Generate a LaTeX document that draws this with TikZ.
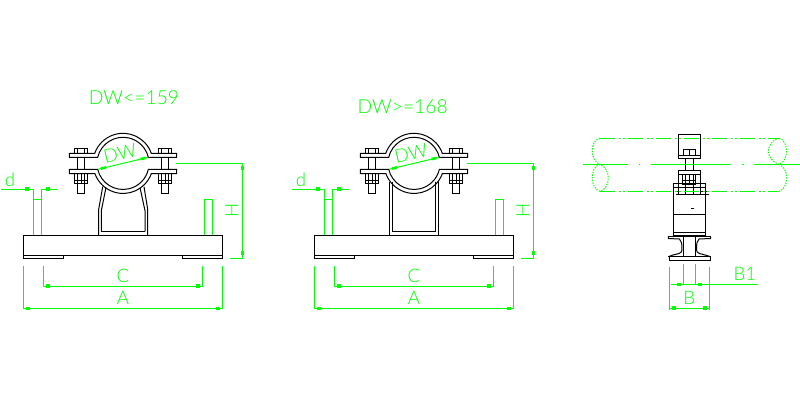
\documentclass[tikz,border=0pt]{standalone}
\usepackage{fontspec}
\setmainfont{Lato}[UprightFont=* Light]
\definecolor{cadgreen}{RGB}{0,255,0}
\tikzset{
  ink/.style={draw=black,line width=0.75pt,line join=miter},
  dim/.style={draw=cadgreen,line width=0.75pt},
  phantomline/.style={draw=cadgreen,line width=0.75pt,dash pattern=on 11.5pt off 2.5pt on 1.5pt off 1.5pt on 1.5pt off 2.5pt},
  dotline/.style={draw=cadgreen,line width=0.75pt,dash pattern=on 1pt off 1pt},
  mark box/.style={fill=cadgreen,draw=none,minimum width=3.2pt,minimum height=2.4pt,inner sep=0pt},
  mark boxv/.style={fill=cadgreen,draw=none,minimum width=2.4pt,minimum height=3.2pt,inner sep=0pt},
  arrowbar/.style={draw=cadgreen,line width=2pt},
  lab/.style={text=cadgreen,inner sep=0pt,font=\fontsize{14pt}{14pt}\selectfont},
  title/.style={text=cadgreen,inner sep=0pt,font=\fontsize{14.5pt}{14.5pt}\selectfont},
}
\newcommand{\boltset}[1]{%
  \begin{scope}[shift={(#1,0)}]
    \draw[ink] (-6.7,153.3) -- (-6.7,148.3) -- (6.7,148.3) -- (6.7,153.3);
    \draw[ink] (-3.7,148.3) -- (-3.7,153.3) (3.7,148.3) -- (3.7,153.3);
    \draw[ink] (-3.7,157.3) -- (-3.7,169.3) (3.7,157.3) -- (3.7,169.3);
    \draw[ink] (-6.7,173.7) -- (-6.7,183.3) -- (6.7,183.3) -- (6.7,173.7);
    \draw[ink] (-3.7,173.7) -- (-3.7,193.3) -- (3.7,193.3) -- (3.7,173.7);
    \draw[ink] (0,173.7) -- (0,183.3) (-6.7,180) -- (6.7,180);
  \end{scope}}
\newcommand{\clamp}{%
  \boltset{-42}\boltset{42}
  % upper half: plate, outer arc, inner arc
  \draw[ink] (-28.3,153.3) -- (-53.7,153.3) -- (-53.7,157.3) -- (-25.3,157.3)
     arc[start angle=193.3,end angle=346.7,radius=26]
     -- (53.7,157.3) -- (53.7,153.3) -- (28.3,153.3)
     arc[start angle=340.5,end angle=199.5,radius=30] -- cycle;
  % lower half
  \draw[ink] (-28.8,173.7) -- (-53.7,173.7) -- (-53.7,169.3) -- (-25.3,169.3)
     arc[start angle=167,end angle=13,radius=26]
     -- (53.7,169.3) -- (53.7,173.7) -- (28.3,173.7)
     arc[start angle=20,end angle=160,radius=30] -- cycle;
}
\newcommand{\basepart}{%
  \draw[ink] (-99.7,235.3) rectangle (99.3,255.3);
  \draw[ink] (-99.7,255.3) rectangle (-59.7,258.3);
  \draw[ink] (59.3,255.3) rectangle (99.3,258.3);
  \draw[dim] (-89.7,235.3) -- (-89.7,189) (-81.7,189) -- (-81.7,235.3) (-89.7,199.3) -- (-81.7,199.3);
  \draw[dim] (81.3,235.3) -- (81.3,199.3) -- (89.3,199.3) -- (89.3,235.3);
  % d
  \draw[dim] (-122,189) -- (-89.7,189) (-81.7,189) -- (-65,189);
  \node[mark box] (dl\figname) at (-95.7,189) {};
  \node[mark box] (dr\figname) at (-75.3,189) {};
  % H
  \draw[dim] (53,163.3) -- (119.3,163.3) -- (119.3,258.3) -- (107,258.3);
  \node[mark boxv] (ht\figname) at (119.3,168.3) {};
  \node[mark boxv] (hb\figname) at (119.3,253.3) {};
  \node[lab,rotate=90] (hl\figname) at (109,210.7) {H};
  % C
  \draw[dim] (-79.7,266) -- (-79.7,286) -- (79.3,286) -- (79.3,266);
  \node[mark box] (cl\figname) at (-75.3,286) {};
  \node[mark box] (cr\figname) at (75,286) {};
  \node[lab] (cc\figname) at (0,276) {C};
  % A
  \draw[dim] (-99.7,266) -- (-99.7,309.3) (99.3,266) -- (99.3,309.3) (-99.7,308.3) -- (99.3,308.3);
  \node[mark box] (al\figname) at (-95,308.3) {};
  \node[mark box] (ar\figname) at (94.7,308.3) {};
  \node[lab] (aa\figname) at (0,298) {A};
  % DW
  \draw[dim] (-25,169.3) -- (25.3,157.3);
  \draw[arrowbar] (-22,168.6) -- (-17,167.4);
  \draw[arrowbar] (17.5,159.1) -- (22.5,158);
  \node[lab,rotate=13] (wt\figname) at (-3,153.5) {DW};
  \node[lab] (dd\figname) at (-113,180) {d};
}
\begin{document}
\begin{tikzpicture}[x=0.75pt,y=-0.75pt]
\useasboundingbox (0,0) rectangle (800,400);
\fill[white] (0,0) rectangle (800,400);
% ---- figure 1
\begin{scope}[shift={(123,0)}]
  \def\figname{a}
  \draw[ink] (-24.3,235.3) -- (-24.3,209.3) -- (-20.3,186.7);
  \draw[ink] (-21.7,231.3) -- (-21.7,210.7) -- (-17,187.5);
  \draw[ink] (24.7,235.3) -- (24.7,209.3) -- (21,186.7);
  \draw[ink] (22,231.3) -- (22,210.7) -- (17,187.5);
  \draw[ink] (-21.7,231.3) -- (22,231.3);
  \clamp
  \basepart
\end{scope}
\node[title] (t1) at (134,97.5) {DW<=159};
% ---- figure 2
\begin{scope}[shift={(414,0)}]
  \def\figname{b}
  \draw[ink] (-24.7,235.3) -- (-24.7,181.7);
  \draw[ink] (24.7,235.3) -- (24.7,181.7);
  \draw[ink] (-21.7,181.7) -- (-21.7,231.3) -- (21.7,231.3) -- (21.7,181.7);
  \clamp
  \basepart
\end{scope}
\node[title] (t2) at (402.7,106.7) {DW>=168};
% hanger
\draw[ink] (678.3,134.3) rectangle (700.7,158.3);
\draw[ink] (678.3,155.3) -- (700.7,155.3);
\draw[ink] (683.3,149.3) rectangle (695.7,155.3);
\draw[ink] (689.3,149.3) -- (689.3,155.3);
\draw[ink] (685.3,158.3) -- (685.3,170.3) (693.3,158.3) -- (693.3,170.3);
\draw[ink] (678.3,170.3) rectangle (700.7,174.3);
\draw[ink] (678.3,174.3) -- (678.3,194) (700.7,174.3) -- (700.7,194);
\draw[ink] (682.3,174.3) rectangle (695.7,184.3);
\draw[ink] (685.3,174.3) -- (685.3,194) (689.3,174.3) -- (689.3,184.3) (693.3,174.3) -- (693.3,194);
\draw[ink] (682.3,180.7) -- (695.7,180.7);
\draw[ink,line width=1.1pt] (682.3,184) -- (695.7,184);
\draw[ink] (673.3,183.3) rectangle (705.7,235.7);
\draw[ink] (673.3,187.3) -- (705.7,187.3);
\draw[ink] (676.7,191) -- (680,191) (700.7,191) -- (708.7,191);
\draw[ink] (676,194) -- (708.7,194);
\draw[ink] (673.3,214.3) -- (705.7,214.3);
\draw[ink] (673.3,232.3) -- (705.7,232.3);
\draw[ink] (691,208.3) -- (693.7,208.3);
% ---- figure 3: pipe
\draw[phantomline] (600,138.3) -- (779,138.3);
\draw[phantomline] (600,191.3) -- (779,191.3);
\draw[dim] (583.3,164.3) -- (627.7,164.3) (638.8,164.3) -- (640.3,164.3) (651,164.3) -- (730.7,164.3) (742,164.3) -- (743.5,164.3) (754,164.3) -- (800,164.3);
\draw[dotline] (600,138.3) .. controls (594,139) and (592.3,146) .. (592.3,151) .. controls (592.3,156) and (595,163) .. (600,164.3);
\draw[dotline] (600,164.3) .. controls (594,166) and (592.3,172) .. (592.3,178) .. controls (592.3,184) and (595,190) .. (600,191.3)
   .. controls (605,190) and (608.3,184) .. (608.3,178) .. controls (608.3,172) and (605,166) .. (600,164.3);
\draw[dotline] (779,138.3) .. controls (773,139) and (768.3,146) .. (768.3,151) .. controls (768.3,156) and (773,163) .. (779,164.3)
   .. controls (784,163) and (786.7,156) .. (786.7,151) .. controls (786.7,146) and (784,139) .. (779,138.3);
\draw[dotline] (779,164.3) .. controls (784,166) and (786.7,172) .. (786.7,178) .. controls (786.7,184) and (784,190) .. (779,191.3);
% I-beam
\draw[ink] (668.3,236.7) -- (710.7,236.7);
\draw[ink] (683.3,236.7) -- (683.3,256.7) (695,236.7) -- (695,256.7);
\draw[ink] (668.3,236.7) -- (668.3,238.5) -- (679.5,239)
   .. controls (681.5,241) and (682,244) .. (682,248)
   .. controls (682,252) and (681,253) .. (679,253.5) -- (673,255) -- (668.3,256.7);
\draw[ink] (710.7,236.7) -- (710.7,238.5) -- (699,239)
   .. controls (697,241) and (696.5,244) .. (696.5,248)
   .. controls (696.5,252) and (697.5,253) .. (699.5,253.5) -- (705,255) -- (710.7,256.7);
\draw[ink] (668.3,256.7) -- (710.7,256.7);
\draw[ink] (669.3,256.7) rectangle (710,260.3);
% dims
\draw[dim] (669.3,267.3) -- (669.3,310) (709.3,267.3) -- (709.3,310);
\draw[dim] (683.3,264) -- (683.3,284.3) (695.3,264) -- (695.3,284.3);
\draw[dim] (671,284.3) -- (758,284.3);
\node[mark box] (b1l) at (678.7,284.3) {};
\node[mark box] (b1r) at (700,284.3) {};
\draw[dim] (669.3,308) -- (709.3,308);
\node[mark box] (bl) at (674,308) {};
\node[mark box] (br) at (704.7,308) {};
\node[lab] (b1) at (745,274) {B1};
\node[lab] (bb) at (689.3,298.3) {B};
\end{tikzpicture}
\end{document}
